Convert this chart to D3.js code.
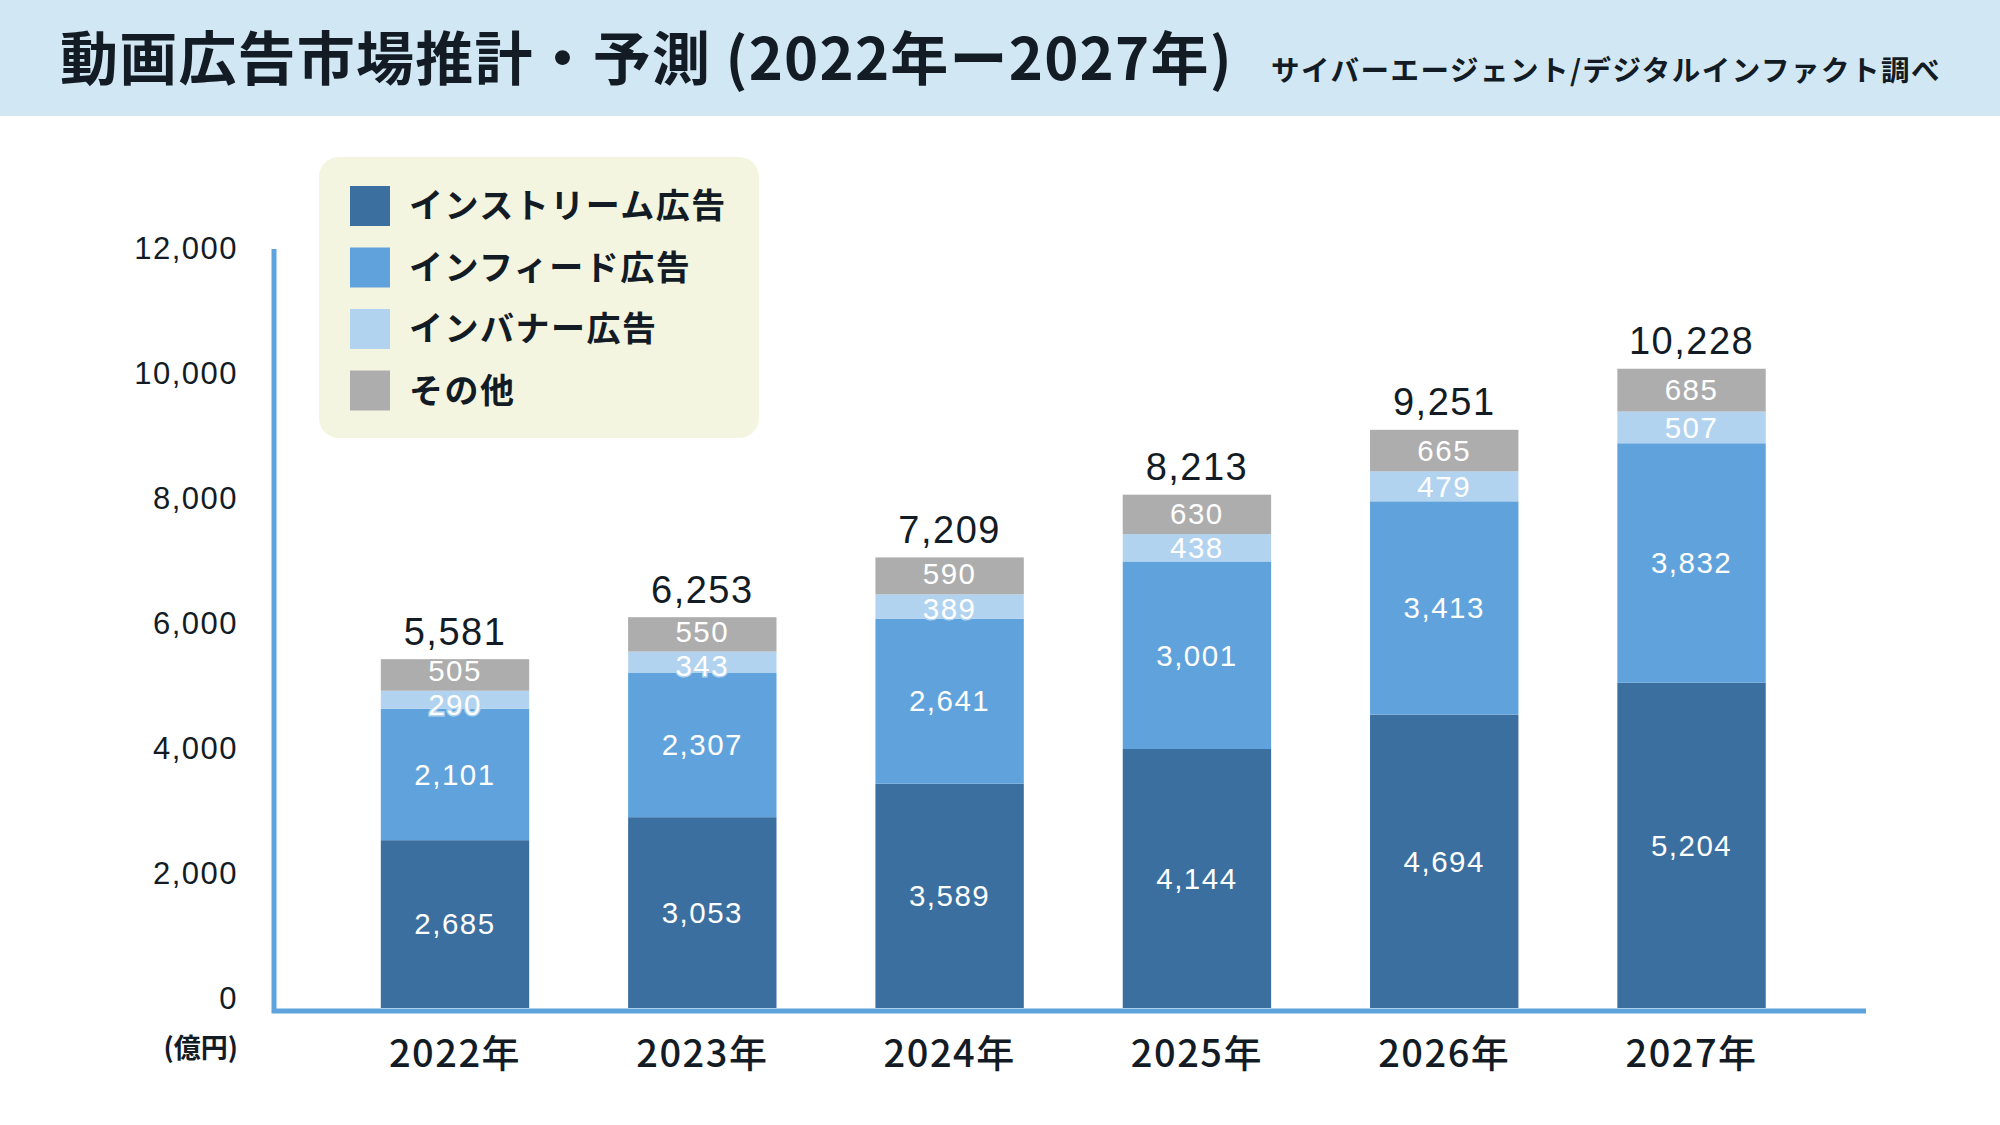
<!DOCTYPE html>
<html><head><meta charset="utf-8">
<script src="https://cdn.jsdelivr.net/npm/d3@7/dist/d3.min.js"></script>
<style>
html,body{margin:0;padding:0;background:#fff;}
svg{display:block;}
</style></head>
<body>
<svg id="chart" width="2000" height="1125"></svg>
<script>
const years = ["2022年","2023年","2024年","2025年","2026年","2027年"];
const seriesNames = ["インストリーム広告","インフィード広告","インバナー広告","その他"];
const instream = [2685,3053,3589,4144,4694,5204];
const infeed   = [2101,2307,2641,3001,3413,3832];
const inbanner = [290,343,389,438,479,507];
const other    = [505,550,590,630,665,685];
const totals   = [5581,6253,7209,8213,9251,10228];
const yTicks   = [0,2000,4000,6000,8000,10000,12000];
const colors   = ["#3a6f9f","#60a3dc","#b2d3ef","#adadad"];

const title = "動画広告市場推計・予測 (2022年ー2027年)";
const source = "サイバーエージェント/デジタルインファクト調べ";

const svg = d3.select("#chart");
const JP = "'Noto Sans CJK JP','Noto Sans',sans-serif";
const NUM = "'Liberation Sans','Noto Sans',sans-serif";
const ink = "#131b24";

// header
svg.append("rect").attr("x",0).attr("y",0).attr("width",2000).attr("height",116).attr("fill","#d1e8f4");
svg.append("text").attr("x",60).attr("y",80).attr("font-family",JP).attr("font-weight",700)
  .attr("font-size",58).attr("letter-spacing",1.2).attr("fill",ink).text(title);
svg.append("text").attr("x",1941).attr("y",81).attr("text-anchor","end").attr("font-family",JP)
  .attr("font-weight",700).attr("font-size",28.5).attr("letter-spacing",1.5).attr("fill",ink).text(source);

// scales
const x = d3.scaleBand().domain(years).range([331.35,1815.2]).paddingInner(0.4).paddingOuter(0.2);
const y = d3.scaleLinear().domain([0,12000]).range([1008,258]);

const rows = years.map((yr,i)=>({year:yr, a:instream[i], b:infeed[i], c:inbanner[i], d:other[i], total:totals[i]}));
const keys = ["a","b","c","d"];
const stack = d3.stack().keys(keys)(rows);

// bars
const g = svg.append("g");
stack.forEach((layer,li)=>{
  g.selectAll(null).data(layer).enter().append("rect")
    .attr("x",d=>x(d.data.year)).attr("width",x.bandwidth())
    .attr("y",d=>y(d[1])).attr("height",d=>y(d[0])-y(d[1]))
    .attr("fill",colors[li]);
});
const fmt = d3.format(",");

// label layout with collision avoidance (per bar)
const segFont = 29.5, segH = segFont*1.12, totFont = 38, totH = totFont*1.12, gap = 1;
rows.forEach((r,ri)=>{
  const cx = x(r.year)+x.bandwidth()/2;
  const labs = stack.map((layer,li)=>({li, c:(y(layer[ri][0])+y(layer[ri][1]))/2, v:layer[ri][1]-layer[ri][0]}));
  for(let it=0; it<60; it++){
    for(let i=0;i<labs.length-1;i++){
      const lo=labs[i], hi=labs[i+1];
      const need = segH+gap;
      const d = lo.c-hi.c;
      if(d<need){ const p=(need-d)/2; lo.c+=p; hi.c-=p; }
    }
  }
  labs.forEach(l=>{
    g.append("text").attr("x",cx).attr("y",l.c).attr("dy","0.35em")
      .attr("text-anchor","middle").attr("font-family",NUM).attr("font-weight",400)
      .attr("font-size",segFont).attr("letter-spacing",1.5).attr("fill","#fff")
      .attr("stroke",colors[l.li]).attr("stroke-width",3).attr("paint-order","stroke")
      .text(fmt(l.v));
  });
  const topLab = labs[labs.length-1];
  const defC = y(r.total)-14-totFont*0.36;
  const c = Math.min(defC, topLab.c - segH/2 - totH/2 - gap);
  g.append("text").attr("x",cx).attr("y",c).attr("dy","0.35em")
    .attr("text-anchor","middle").attr("font-family",NUM).attr("font-weight",400)
    .attr("font-size",totFont).attr("letter-spacing",1.5).attr("fill",ink).text(fmt(r.total));
});

// y axis
const yAxis = d3.axisLeft(y).tickValues(yTicks).tickFormat(fmt).tickSize(0).tickPadding(0);
const ya = svg.append("g").attr("transform","translate(238,-9)").call(yAxis);
ya.select(".domain").remove();
ya.selectAll("text").attr("font-family",NUM).attr("font-weight",400).attr("font-size",31)
  .attr("letter-spacing",1.5).attr("fill",ink);

// x axis
const xAxis = d3.axisBottom(x).tickSize(0).tickPadding(0);
const xa = svg.append("g").attr("transform","translate(0,1040)").call(xAxis);
xa.select(".domain").remove();
xa.selectAll("text").attr("font-family",JP).attr("font-weight",500).attr("font-size",38)
  .attr("letter-spacing",1.5).attr("fill",ink);

// axis lines
svg.append("path").attr("d",`M274,249 V1011 H1866`).attr("fill","none")
  .attr("stroke","#5fa3dd").attr("stroke-width",5);

svg.append("text").attr("x",238).attr("y",1058).attr("text-anchor","end").attr("font-family",JP)
  .attr("font-weight",700).attr("font-size",27).attr("fill",ink).text("(億円)");

// legend
const lg = svg.append("g");
lg.append("rect").attr("x",319).attr("y",157).attr("width",440).attr("height",281).attr("rx",20)
  .attr("fill","#f4f5e1");
seriesNames.forEach((n,i)=>{
  const cy = 206 + i*61.5;
  lg.append("rect").attr("x",350).attr("y",cy-20).attr("width",40).attr("height",40).attr("fill",colors[i]);
  lg.append("text").attr("x",409).attr("y",cy).attr("dy","0.36em").attr("font-family",JP)
    .attr("font-weight",700).attr("font-size",34).attr("letter-spacing",1.5).attr("fill",ink).text(n);
});
</script>
</body></html>
